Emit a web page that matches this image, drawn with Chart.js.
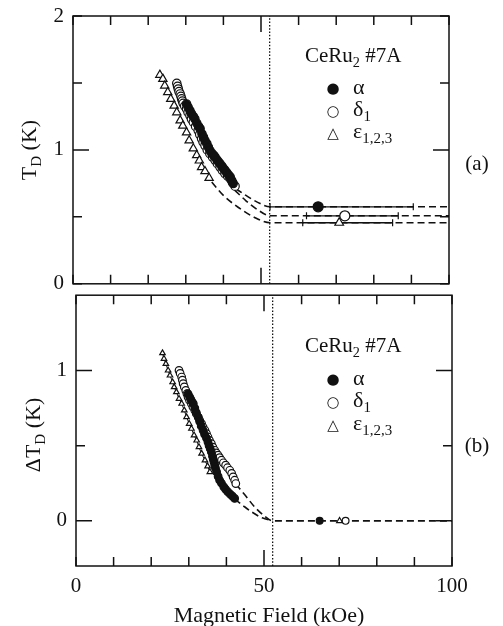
<!DOCTYPE html>
<html>
<head>
<meta charset="utf-8">
<script src="https://cdn.jsdelivr.net/npm/chart.js@4.4.1/dist/chart.umd.min.js"></script>
<style>
body{margin:0;background:#fff;width:503px;height:626px;position:relative;overflow:hidden;font-family:"Liberation Serif","Times New Roman",serif;color:#111}
canvas{position:absolute;left:0}
#topChart{top:0}
#botChart{top:290px}
.t{position:absolute;white-space:nowrap;font-size:21px;line-height:1;transform:translate(0,-50%)}
.c{transform:translate(-50%,-50%)}
.rot{transform:translate(-50%,-50%) rotate(-90deg);font-size:22px}
.mk{position:absolute;font-family:"DejaVu Sans",sans-serif;font-size:15px;line-height:1;transform:translate(-50%,-50%)}
sub{font-size:68%;vertical-align:baseline;position:relative;top:0.32em}
</style>
</head>
<body>
<canvas id="topChart" width="503" height="290"></canvas>
<canvas id="botChart" width="503" height="336"></canvas>

<!-- axis titles -->
<div class="t rot" style="left:29px;top:150px">T<sub>D</sub> (K)</div>
<div class="t rot" style="left:33px;top:435px">ΔT<sub>D</sub> (K)</div>
<div class="t c" style="left:269px;top:615px;font-size:22px">Magnetic Field (kOe)</div>

<!-- panel (a) legend -->
<div class="t" style="left:305px;top:55px">CeRu<sub>2</sub> #7A</div>
<div class="mk" style="left:333px;top:88px">●</div>
<div class="mk" style="left:333px;top:111px">○</div>
<div class="mk" style="left:333px;top:133px">△</div>
<div class="t" style="left:353px;top:87px;font-size:22px">α</div>
<div class="t" style="left:353px;top:109px;font-size:22px">δ<sub>1</sub></div>
<div class="t" style="left:353px;top:131px;font-size:22px">ε<sub>1,2,3</sub></div>
<div class="t c" style="left:477px;top:163px">(a)</div>

<!-- panel (b) legend -->
<div class="t" style="left:305px;top:345px">CeRu<sub>2</sub> #7A</div>
<div class="mk" style="left:333px;top:379px">●</div>
<div class="mk" style="left:333px;top:402px">○</div>
<div class="mk" style="left:333px;top:425px">△</div>
<div class="t" style="left:353px;top:378px;font-size:22px">α</div>
<div class="t" style="left:353px;top:400px;font-size:22px">δ<sub>1</sub></div>
<div class="t" style="left:353px;top:423px;font-size:22px">ε<sub>1,2,3</sub></div>
<div class="t c" style="left:477px;top:445px">(b)</div>

<script>
// axis ticks
const xTicks = [0,10,20,30,40,50,60,70,80,90,100];
const xMajor = [50];
const xLabels = [0,50,100];
const topYTicks = [0,0.5,1,1.5,2];
const topYMajor = [1];
const topYLabels = [0,1,2];
const botYTicks = [0,0.5,1];
const botYMajor = [0,1];
const botYLabels = [0,1];
const Hc2 = 52.3; // dotted line

// (a) Dingle temperature, T_D (K)
const alphaH = [30.2,30.6,31.1,31.5,32.0,32.4,32.9,33.4,33.8,34.3,34.7,35.1,35.6,36.0,36.4,36.9,37.4,37.8,38.3,38.7,39.1,39.6,40.0,40.4,40.9,41.4,41.8,42.2,42.6];
const alphaT = [1.343,1.32,1.294,1.27,1.25,1.232,1.20,1.175,1.158,1.12,1.095,1.07,1.046,1.02,0.996,0.975,0.96,0.946,0.925,0.91,0.897,0.878,0.862,0.848,0.83,0.812,0.798,0.772,0.749];
const deltaH = [27.6,27.8,28.0,28.2,28.5,28.7,28.9,29.1,29.3,29.7,30.2,30.6,31.1,31.5,32.0,32.6,33.3,33.7,34.2,34.6,35.1,35.7,36.4,37.1,37.8,38.4,39.1,39.7,40.4,41.1,41.8,42.4,43.1];
const deltaT = [1.497,1.475,1.455,1.435,1.418,1.40,1.381,1.365,1.348,1.327,1.306,1.28,1.257,1.23,1.207,1.175,1.145,1.115,1.083,1.058,1.033,1.00,0.972,0.947,0.922,0.897,0.872,0.848,0.823,0.805,0.786,0.757,0.729];
const epsH = [23.1,23.9,24.4,25.2,26.0,26.9,27.6,28.5,29.2,30.2,30.9,32.0,32.9,33.6,34.2,35.1,36.2];
const epsT = [1.56,1.53,1.48,1.43,1.38,1.33,1.28,1.22,1.18,1.13,1.07,1.01,0.96,0.92,0.87,0.84,0.79];

// high-field points with error bars: alpha, delta1, eps
const hiH = [65.2,72.3,70.8];
const hiT = [0.575,0.508,0.456];
const hiLo = [52.4,62.1,61.1];
const hiHi = [90.5,86.5,85.0];

// dashed guide curves (a)
const guideAlphaH = [43.3,46,49,52.4,100];
const guideAlphaT = [0.71,0.66,0.61,0.575,0.575];
const guideDeltaH = [43.0,46,49,52.4,100];
const guideDeltaT = [0.70,0.62,0.555,0.508,0.508];
const guideEpsH = [36.9,40,44,48,52.4,100];
const guideEpsT = [0.76,0.66,0.57,0.50,0.456,0.456];

// (b) Delta T_D (K)
const dAlphaH = [29.8,30.2,30.5,30.8,31.2,31.6,32.0,32.5,32.9,33.3,33.8,34.2,34.7,35.1,35.4,35.7,36.0,36.3,36.5,36.7,36.9,37.1,37.4,37.8,38.2,38.7,39.3,39.8,40.4,41.0,41.6,42.2];
const dAlphaT = [0.845,0.825,0.81,0.795,0.779,0.75,0.72,0.690,0.66,0.63,0.602,0.575,0.55,0.524,0.50,0.48,0.458,0.43,0.41,0.392,0.37,0.35,0.325,0.295,0.270,0.25,0.226,0.21,0.192,0.178,0.164,0.149];
const dDeltaH = [27.4,27.7,28.1,28.3,28.5,28.8,29.2,29.5,29.8,30.2,30.7,31.1,31.6,32.0,32.5,32.9,33.4,33.8,34.3,34.7,35.1,35.5,36.0,36.4,36.9,37.3,37.8,38.2,38.7,39.2,39.8,40.3,40.9,41.4,41.8,42.2,42.5];
const dDeltaT = [1.000,0.98,0.956,0.935,0.912,0.89,0.867,0.845,0.823,0.80,0.779,0.757,0.735,0.712,0.690,0.668,0.646,0.624,0.602,0.58,0.557,0.535,0.513,0.49,0.469,0.452,0.436,0.42,0.403,0.386,0.370,0.353,0.336,0.315,0.292,0.27,0.248];
const dEpsH = [23.0,23.4,23.9,24.5,25.0,25.7,26.1,26.7,27.4,28.1,28.8,29.4,30.1,30.7,31.4,32.1,32.7,33.4,34.3,35.0,35.6];
const dEpsT = [1.115,1.078,1.044,1.000,0.967,0.922,0.889,0.856,0.812,0.779,0.735,0.690,0.646,0.613,0.569,0.535,0.491,0.447,0.403,0.363,0.325];
const dHiH = [64.8,71.7,70.1];
const dHiT = [0,0,0];
const dGuideDeltaH = [42.5,45,47.5,50,52.3,100];
const dGuideDeltaT = [0.245,0.17,0.093,0.035,0,0];
const dGuideAlphaH = [42.2,44.5,46.7,49.5,52.3];
const dGuideAlphaT = [0.145,0.10,0.06,0.02,0];

const ink = '#111';
const zip = (xs, ys) => xs.map((x, i) => ({x, y: ys[i]}));
const font = {family: '"Liberation Serif","Times New Roman",serif', size: 21};

const frameTicks = {
  id: 'frameTicks',
  afterDatasetsDraw(chart, args, opts){
    const {ctx, chartArea: a, scales: {x, y}} = chart;
    ctx.save();
    ctx.strokeStyle = ink;
    ctx.lineWidth = 1.5;
    ctx.strokeRect(a.left, a.top, a.right - a.left, a.bottom - a.top);
    ctx.beginPath();
    opts.xTicks.forEach(v => {
      const px = x.getPixelForValue(v);
      const len = opts.xMajor.includes(v) ? 16 : 9;
      ctx.moveTo(px, a.bottom); ctx.lineTo(px, a.bottom - len);
      ctx.moveTo(px, a.top); ctx.lineTo(px, a.top + len);
    });
    opts.yTicks.forEach(v => {
      const py = y.getPixelForValue(v);
      const len = opts.yMajor.includes(v) ? 16 : 9;
      ctx.moveTo(a.left, py); ctx.lineTo(a.left + len, py);
      ctx.moveTo(a.right, py); ctx.lineTo(a.right - len, py);
    });
    ctx.stroke();
    ctx.restore();
  }
};

function marks(data, style, r, order){
  return {
    data, showLine: false, order,
    pointStyle: style === 'filled' ? 'circle' : style, pointRadius: r,
    pointBackgroundColor: style === 'filled' ? ink : '#fff',
    pointBorderColor: ink, pointBorderWidth: 1.2
  };
}
function dashed(data, order){
  return {data, showLine: true, borderColor: ink, borderWidth: 1.6, borderDash: [7,4],
    pointRadius: 0, tension: 0.4, cubicInterpolationMode: 'monotone', order};
}
function errBar(i){
  return {data: [{x: hiLo[i], y: hiT[i]}, {x: hiHi[i], y: hiT[i]}], showLine: true,
    borderColor: ink, borderWidth: 1.3, pointStyle: 'line', rotation: 90, pointRadius: 3.5,
    pointBorderColor: ink, pointBorderWidth: 1.2, order: 6};
}
function vline(y0, y1){
  return {data: [{x: Hc2, y: y0}, {x: Hc2, y: y1}], showLine: true, borderColor: ink,
    borderWidth: 1.3, borderDash: [1.5,1.8], pointRadius: 0, order: 9};
}
function noPad(s){ s.paddingTop = 0; s.paddingBottom = 0; s.paddingLeft = 0; s.paddingRight = 0; }

function baseOptions(pad, yw, yMin, yMax, yLabels, showX){
  return {
    responsive: false, animation: false, devicePixelRatio: 1,
    layout: {padding: pad},
    plugins: {legend: {display: false}, tooltip: {enabled: false}},
    scales: {
      x: {
        type: 'linear', min: 0, max: 100, display: showX,
        grid: {display: false, drawTicks: false}, border: {display: false},
        afterBuildTicks: s => { s.ticks = xLabels.map(v => ({value: v})); },
        ticks: {font, color: ink, padding: 8, maxRotation: 0},
        afterFit: s => { s.height = showX ? 60 : 0; noPad(s); }
      },
      y: {
        type: 'linear', min: yMin, max: yMax,
        grid: {display: false, drawTicks: false}, border: {display: false},
        afterBuildTicks: s => { s.ticks = yLabels.map(v => ({value: v})); },
        ticks: {font, color: ink, padding: 9},
        afterFit: s => { s.width = yw; noPad(s); }
      }
    }
  };
}

// panel (a)
const topOpts = baseOptions({top: 16, right: 54, bottom: 6, left: 0}, 73, 0, 2, topYLabels, false);
topOpts.plugins.frameTicks = {xTicks, xMajor, yTicks: topYTicks, yMajor: topYMajor};
new Chart(document.getElementById('topChart'), {
  type: 'scatter',
  data: {datasets: [
    marks(zip(alphaH, alphaT), 'filled', 4.2, 1),
    marks(zip(deltaH, deltaT), 'circle', 4.2, 2),
    marks(zip(epsH, epsT), 'triangle', 4.8, 3),
    marks([{x: hiH[0], y: hiT[0]}], 'filled', 5, 1),
    marks([{x: hiH[1], y: hiT[1]}], 'circle', 5, 1),
    marks([{x: hiH[2], y: hiT[2]}], 'triangle', 5, 1),
    errBar(0), errBar(1), errBar(2),
    dashed(zip(guideAlphaH, guideAlphaT), 7),
    dashed(zip(guideDeltaH, guideDeltaT), 7),
    dashed(zip(guideEpsH, guideEpsT), 7),
    vline(0, 2)
  ]},
  options: topOpts,
  plugins: [frameTicks]
});

// panel (b)
const botOpts = baseOptions({top: 5, right: 51, bottom: 0, left: 0}, 76, -0.3, 1.5, botYLabels, true);
botOpts.plugins.frameTicks = {xTicks, xMajor, yTicks: botYTicks, yMajor: botYMajor};
const epsLine = marks(zip(dEpsH, dEpsT), 'triangle', 3.2, 3);
epsLine.showLine = true; epsLine.borderColor = ink; epsLine.borderWidth = 1;
new Chart(document.getElementById('botChart'), {
  type: 'scatter',
  data: {datasets: [
    marks(zip(dAlphaH, dAlphaT), 'filled', 3.8, 1),
    marks(zip(dDeltaH, dDeltaT), 'circle', 3.8, 2),
    epsLine,
    marks([{x: dHiH[0], y: dHiT[0]}], 'filled', 3.4, 1),
    marks([{x: dHiH[1], y: dHiT[1]}], 'circle', 3.4, 1),
    marks([{x: dHiH[2], y: dHiT[2]}], 'triangle', 3.4, 1),
    dashed(zip(dGuideDeltaH, dGuideDeltaT), 7),
    dashed(zip(dGuideAlphaH, dGuideAlphaT), 7),
    vline(-0.3, 1.5)
  ]},
  options: botOpts,
  plugins: [frameTicks]
});
</script>
</body>
</html>
